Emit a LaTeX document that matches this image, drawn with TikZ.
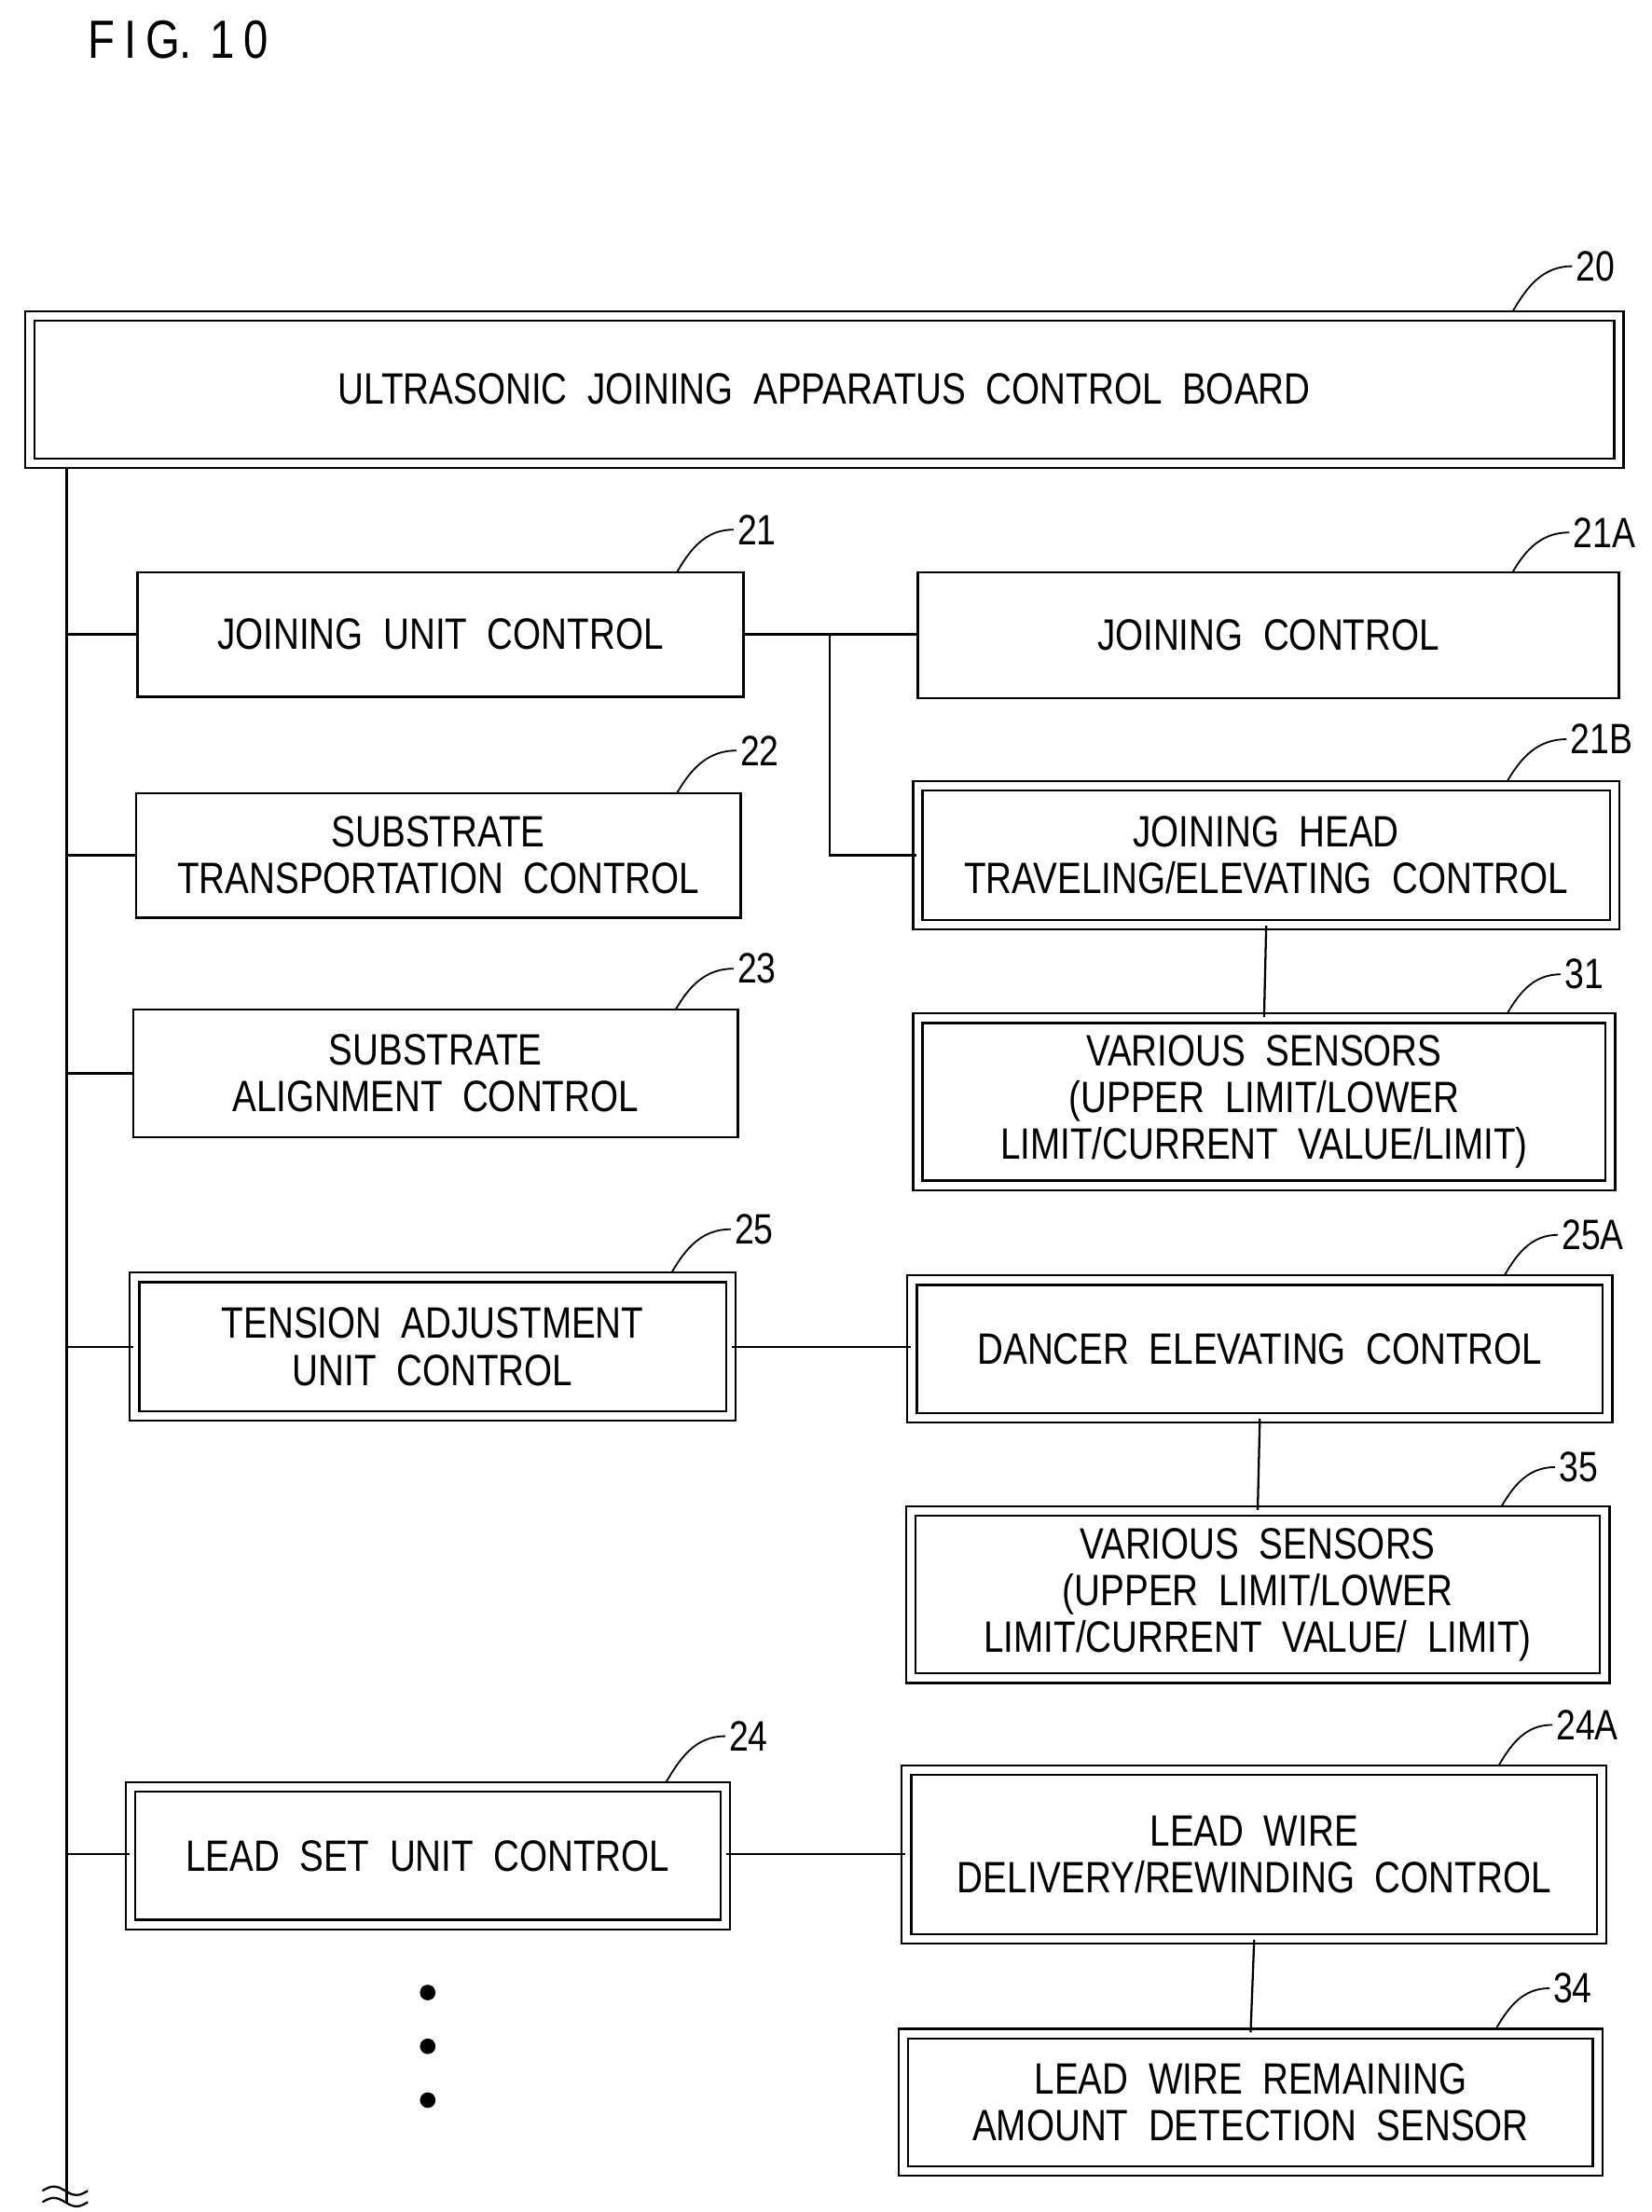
\documentclass[tikz,border=0pt]{standalone}
\usepackage{fontspec}
\setmainfont{Liberation Sans}[FakeStretch=0.82]
\usetikzlibrary{fit}
\begin{document}
\begin{tikzpicture}[x=0.5pt,y=-0.5pt,line width=0.75pt,
  every node/.style={font=\fontsize{15.5}{16.5}\selectfont},
  sb/.style={draw,inner sep=0pt,align=center},
  db/.style={draw,double,double distance=2.6pt,inner sep=0pt,align=center},
  ld/.style={line width=0.6pt},
  lb/.style={anchor=west,inner sep=1pt,font=\fontsize{15}{16}\selectfont}]
\useasboundingbox (0,0) rectangle (1166,1562);
\node[anchor=west,font=\fontsize{19}{20}\selectfont] (fig) at (55,28) {F\,I\,G.\,\,1\,0};
\newcommand\bx[7]{\node[#6,fit={(#2,#3)(#4,#5)}] (#1) {}; \node[align=center] (#1t) at (#1.center) {#7};}
\bx{b20}{21}{223}{1143}{327}{db}{ULTRASONIC\ \ JOINING\ \ APPARATUS\ \ CONTROL\ \ BOARD}
\bx{b21}{97}{404}{525}{492}{sb}{JOINING\ \ UNIT\ \ CONTROL}
\bx{b21A}{648}{404}{1143}{493}{sb}{JOINING\ \ CONTROL}
\bx{b22}{96}{560}{523}{648}{sb}{SUBSTRATE\\TRANSPORTATION\ \ CONTROL}
\bx{b21B}{648}{555}{1140}{653}{db}{JOINING\ \ HEAD\\TRAVELING/ELEVATING\ \ CONTROL}
\bx{b23}{94}{713}{521}{803}{sb}{SUBSTRATE\\ALIGNMENT\ \ CONTROL}
\bx{b31}{648}{719}{1137}{837}{db}{VARIOUS\ \ SENSORS\\(UPPER\ \ LIMIT/LOWER\\LIMIT/CURRENT\ \ VALUE/LIMIT)}
\bx{b25}{95}{902}{516}{1000}{db}{TENSION\ \ ADJUSTMENT\\UNIT\ \ CONTROL}
\bx{b25A}{644}{904}{1135}{1001}{db}{DANCER\ \ ELEVATING\ \ CONTROL}
\bx{b35}{643}{1067}{1133}{1185}{db}{VARIOUS\ \ SENSORS\\(UPPER\ \ LIMIT/LOWER\\LIMIT/CURRENT\ \ VALUE/\ \ LIMIT)}
\bx{b24}{92}{1262}{512}{1359}{db}{LEAD\ \ SET\ \ UNIT\ \ CONTROL}
\bx{b24A}{640}{1250}{1131}{1369}{db}{LEAD\ \ WIRE\\DELIVERY/REWINDING\ \ CONTROL}
\bx{b34}{638}{1436}{1128}{1533}{db}{LEAD\ \ WIRE\ \ REMAINING\\AMOUNT\ \ DETECTION\ \ SENSOR}
% bus
\coordinate (bt) at (47,330); \coordinate (bb) at (47,1556);
\draw (bt) -- (bb);
\draw (30,1547) sin (38,1544) cos (46,1547) sin (54,1550) cos (62,1547);
\draw (30,1555) sin (38,1552) cos (46,1555) sin (54,1558) cos (62,1555);
\foreach \n/\y in {b21/448,b22/604,b23/758,b25/951,b24/1309}{
  \draw (47,\y) -- (\n.west|-0,\y);}
\coordinate (j) at (586,448);
\draw (b21.east|-j) -- (b21A.west|-j);
\draw (j) |- (b21B.west);
\draw (b21B.south) -- (b31.north);
\draw (b25.east|-0,951) -- (b25A.west|-0,951);
\draw (b25A.south) -- (b35.north);
\draw (b24.east|-0,1309) -- (b24A.west|-0,1309);
\draw (b24A.south) -- (b34.north);
\foreach \y [count=\i] in {1407,1445,1483}{\fill (302,\y) circle (5.5);}
% leaders
\foreach \a/\b/\c/\d/\t in {1068/220/1110/188/20,478/404/518/374/21,1068/404/1108/376/21A,478/560/520/530/22,1064/552/1106/522/21B,477/713/518/684/23,1064/716/1102/688/31,474/899/516/868/25,1062/901/1100/872/25A,1060/1064/1098/1036/35,470/1259/512/1226/24,1058/1247/1096/1218/24A,1056/1433/1094/1404/34}{
  \draw[ld] (\a,\b) to[out=-60+120,in=180] (\c,\d);
  \node[lb] (l\t) at (\c,\d) {\t};}
\end{tikzpicture}
\end{document}
